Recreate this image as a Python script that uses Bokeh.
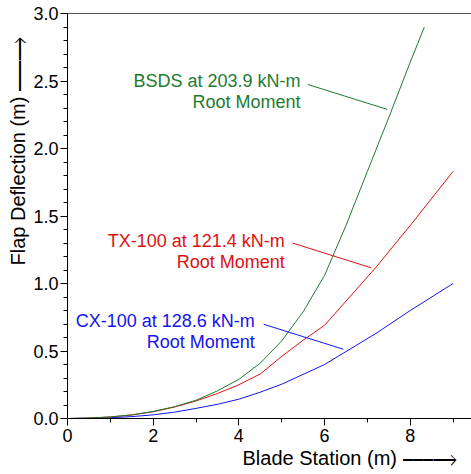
from bokeh.plotting import figure
from bokeh.models import (Range1d, SingleIntervalTicker, FixedTicker, LinearAxis, Label, Title,
                          NumeralTickFormatter)
from bokeh.embed import file_html
from bokeh.resources import INLINE

# ---- data ----
cx_station = [0, 0.5, 1, 1.5, 2, 2.5, 3, 3.5, 4, 4.5, 5, 6, 7.2, 8, 9]
cx_deflection = [0, 0.002, 0.006, 0.014, 0.027, 0.047, 0.075, 0.105, 0.143, 0.195, 0.254, 0.40, 0.63, 0.80, 1.0]

tx_station = [0, 0.5, 1, 1.5, 2, 2.5, 3, 3.5, 4, 4.5, 5, 5.5, 6, 7.2, 8, 9]
tx_deflection = [0, 0.003, 0.011, 0.026, 0.05, 0.085, 0.13, 0.185, 0.25, 0.33, 0.46, 0.58, 0.69, 1.12, 1.43, 1.83]

bsds_station = [0, 0.5, 1, 1.5, 2, 2.5, 3, 3.5, 4, 4.5, 5, 5.5, 6, 6.5, 7, 7.5, 8, 8.33]
bsds_deflection = [0, 0.003, 0.012, 0.027, 0.052, 0.088, 0.135, 0.205, 0.29, 0.41, 0.575, 0.79, 1.06, 1.43, 1.83, 2.23, 2.64, 2.90]

label_line1 = ["BSDS at 203.9 kN-m", "TX-100 at 121.4 kN-m", "CX-100 at 128.6 kN-m"]
label_line2 = ["Root Moment", "Root Moment", "Root Moment"]
ARROW = "\u23af" * 3 + "\u27f6"
x_title = "Blade Station (m) " + ARROW
y_title = "Flap Deflection (m) " + ARROW

GREEN = "#1e7b2e"
RED = "#dd1111"
BLUE = "#1414ee"
FONT = "Liberation Sans"

p = figure(width=471, height=474, output_backend="svg", toolbar_location=None,
           x_range=Range1d(0, 9.43), y_range=Range1d(0, 3.0),
           min_border_left=67, min_border_right=0, min_border_top=13, min_border_bottom=56)
p.outline_line_color = None
p.xgrid.visible = False
p.ygrid.visible = False
p.background_fill_color = "white"
p.border_fill_color = "white"

for ax in (p.xaxis[0], p.yaxis[0]):
    ax.axis_line_color = "black"
    ax.major_tick_line_color = "black"
    ax.minor_tick_line_color = "black"
    ax.major_tick_out = 7
    ax.major_tick_in = 0
    ax.minor_tick_out = 4
    ax.minor_tick_in = 0
    ax.major_label_text_font = FONT
    ax.major_label_text_font_size = "18px"
    ax.major_label_text_color = "black"

p.xaxis[0].ticker = SingleIntervalTicker(interval=2, num_minor_ticks=2)
p.yaxis[0].ticker = SingleIntervalTicker(interval=0.5, num_minor_ticks=5)
p.yaxis[0].formatter = NumeralTickFormatter(format="0.0")
p.xaxis[0].major_label_standoff = 3
p.yaxis[0].major_label_standoff = 2

top = LinearAxis(ticker=FixedTicker(ticks=[]), axis_line_color="#555555",
                 major_tick_line_color=None, minor_tick_line_color=None,
                 major_label_standoff=0)
p.add_layout(top, "above")

p.line(cx_station, cx_deflection, line_color=BLUE, line_width=1)
p.line(tx_station, tx_deflection, line_color=RED, line_width=1)
p.line(bsds_station, bsds_deflection, line_color=GREEN, line_width=1)

# leader lines (annotation positions)
p.segment(x0=[5.61, 5.25, 4.58], y0=[2.474, 1.30, 0.698],
          x1=[7.46, 7.09, 6.44], y1=[2.29, 1.116, 0.513],
          line_color=[GREEN, RED, BLUE], line_width=1)

lab_x = [5.44, 5.07, 4.37]
lab_y1 = [2.499, 1.313, 0.721]
lab_y2 = [2.345, 1.160, 0.567]
cols = [GREEN, RED, BLUE]
for i in range(3):
    for txt, yy in ((label_line1[i], lab_y1[i]), (label_line2[i], lab_y2[i])):
        p.add_layout(Label(x=lab_x[i], y=yy, text=txt, text_align="right",
                           text_baseline="alphabetic", text_color=cols[i],
                           text_font=FONT, text_font_size="18px"))

# axis titles as side titles so that they can be offset along the axes
p.add_layout(Title(text=x_title, align="left", offset=175, standoff=0,
                   text_font=FONT, text_font_size="20px", text_font_style="normal",
                   text_color="black"), "below")
p.add_layout(Title(text=y_title, align="left", offset=153, standoff=4,
                   text_font=FONT, text_font_size="20px", text_font_style="normal",
                   text_color="black"), "left")

open("out.html", "w").write(file_html(p, INLINE))
